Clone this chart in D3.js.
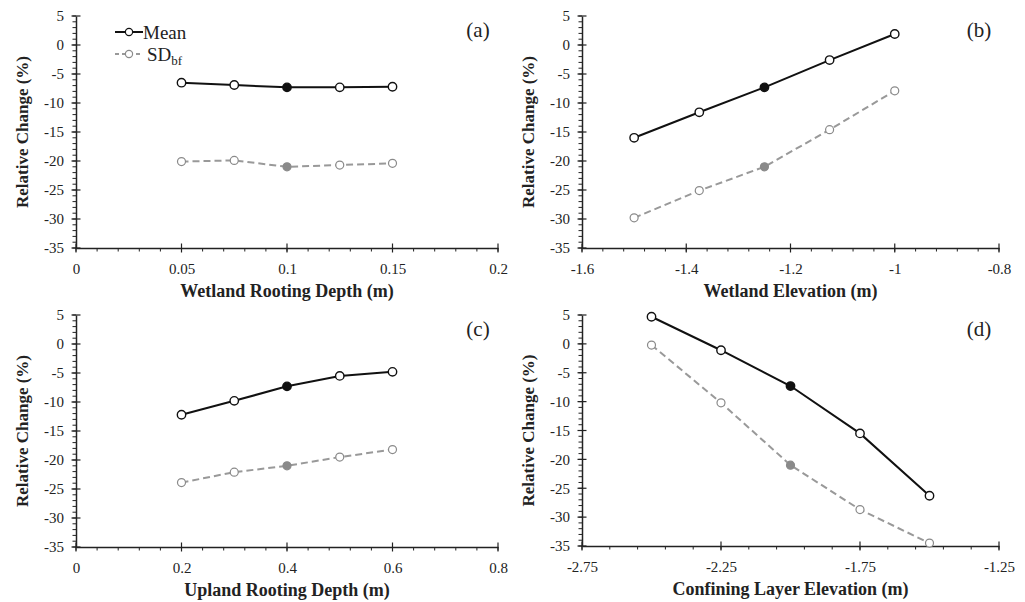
<!DOCTYPE html>
<html>
<head>
<meta charset="utf-8">
<script src="https://cdn.jsdelivr.net/npm/d3@7"></script>
<style>
  html, body { margin: 0; padding: 0; background: #fff; }
  svg { display: block; }
  text { font-family: "Liberation Serif", "Times New Roman", serif; fill: #222; }
</style>
</head>
<body>
<svg id="chart" width="1025" height="602"></svg>
<script>
// Sensitivity of relative change (%) to four model parameters
const wetlandRootDepth = [0.05, 0.075, 0.1, 0.125, 0.15];
const wetlandRootMean  = [-6.5, -6.9, -7.3, -7.3, -7.2];
const wetlandRootSD    = [-20.1, -19.9, -21.0, -20.7, -20.4];

const wetlandElev      = [-1.5, -1.375, -1.25, -1.125, -1.0];
const wetlandElevMean  = [-16.0, -11.6, -7.3, -2.6, 1.9];
const wetlandElevSD    = [-29.8, -25.1, -21.0, -14.6, -7.9];

const uplandRootDepth  = [0.2, 0.3, 0.4, 0.5, 0.6];
const uplandRootMean   = [-12.2, -9.8, -7.3, -5.5, -4.8];
const uplandRootSD     = [-23.9, -22.1, -21.0, -19.5, -18.2];

const confiningElev    = [-2.5, -2.25, -2.0, -1.75, -1.5];
const confiningMean    = [4.7, -1.1, -7.3, -15.5, -26.3];
const confiningSD      = [-0.2, -10.2, -21.0, -28.7, -34.5];

// Index of the base-case run (drawn with filled markers)
const baseIndex = 2;

const yMajorTicks = [5, 0, -5, -10, -15, -20, -25, -30, -35];

const panels = [
  { tag: "(a)", title: "Wetland Rooting Depth (m)", x: wetlandRootDepth, mean: wetlandRootMean, sd: wetlandRootSD,
    xDomain: [0, 0.2], xMajor: [0, 0.05, 0.1, 0.15, 0.2], xMinorStep: 0.01,
    left: 76, right: 498, top: 16, bottom: 248, legend: true },
  { tag: "(b)", title: "Wetland Elevation (m)", x: wetlandElev, mean: wetlandElevMean, sd: wetlandElevSD,
    xDomain: [-1.6, -0.8], xMajor: [-1.6, -1.4, -1.2, -1, -0.8], xMinorStep: 0.04,
    left: 582, right: 999, top: 16, bottom: 248 },
  { tag: "(c)", title: "Upland Rooting Depth (m)", x: uplandRootDepth, mean: uplandRootMean, sd: uplandRootSD,
    xDomain: [0, 0.8], xMajor: [0, 0.2, 0.4, 0.6, 0.8], xMinorStep: 0.04,
    left: 76, right: 498, top: 315, bottom: 547 },
  { tag: "(d)", title: "Confining Layer Elevation (m)", x: confiningElev, mean: confiningMean, sd: confiningSD,
    xDomain: [-2.75, -1.25], xMajor: [-2.75, -2.25, -1.75, -1.25], xMinorStep: 0.1,
    left: 582, right: 999, top: 315, bottom: 546 }
];

const meanColor = "#111";
const sdColor = "#999";
const sdMarkerColor = "#8a8a8a";
const serif = '"Liberation Serif", "Times New Roman", serif';

const svg = d3.select("#chart");
const fmt = d => String(+(+d).toFixed(3));

function rangeStep(a, b, step) {
  const n = Math.round((b - a) / step);
  return d3.range(n + 1).map(i => a + i * step);
}

panels.forEach(p => {
  const g = svg.append("g");
  const x = d3.scaleLinear().domain(p.xDomain).range([p.left, p.right]);
  const y = d3.scaleLinear().domain([-35, 5]).range([p.bottom, p.top]);

  // minor ticks (outside)
  const xMinor = rangeStep(p.xDomain[0], p.xDomain[1], p.xMinorStep);
  g.selectAll(".xminor").data(xMinor).join("line")
    .attr("x1", d => x(d)).attr("x2", d => x(d))
    .attr("y1", p.bottom).attr("y2", p.bottom + 3.5)
    .attr("stroke", "#222").attr("stroke-width", 1);
  const yMinor = d3.range(-35, 6, 1);
  g.selectAll(".yminor").data(yMinor).join("line")
    .attr("x1", p.left - 3.5).attr("x2", p.left)
    .attr("y1", d => y(d)).attr("y2", d => y(d))
    .attr("stroke", "#222").attr("stroke-width", 1);

  // major ticks (crossing)
  g.selectAll(".xmajor").data(p.xMajor).join("line")
    .attr("x1", d => x(d)).attr("x2", d => x(d))
    .attr("y1", p.bottom - 4.5).attr("y2", p.bottom + 4.5)
    .attr("stroke", "#222").attr("stroke-width", 1.2);
  g.selectAll(".ymajor").data(yMajorTicks).join("line")
    .attr("x1", p.left - 4.5).attr("x2", p.left + 4.5)
    .attr("y1", d => y(d)).attr("y2", d => y(d))
    .attr("stroke", "#222").attr("stroke-width", 1.2);

  // axis lines + labels through d3 axes
  const xAxis = g.append("g").attr("transform", `translate(0,${p.bottom})`)
    .call(d3.axisBottom(x).tickValues(p.xMajor).tickSize(0).tickPadding(15).tickFormat(fmt));
  const yAxis = g.append("g").attr("transform", `translate(${p.left},0)`)
    .call(d3.axisLeft(y).tickValues(yMajorTicks).tickSize(0).tickPadding(12).tickFormat(fmt));
  [xAxis, yAxis].forEach(a => {
    a.attr("font-family", null).attr("font-size", null);
    a.select(".domain").attr("stroke", "#222").attr("stroke-width", 1.5);
    a.selectAll("text")
      .style("font-family", serif).style("font-size", "15px").style("fill", "#222");
  });

  // axis titles
  g.append("text")
    .attr("x", (p.left + p.right) / 2).attr("y", p.bottom + 49)
    .attr("text-anchor", "middle").attr("font-weight", "bold").attr("font-size", 18)
    .text(p.title);
  g.append("text")
    .attr("transform", `translate(${p.left - 54},${(p.top + p.bottom) / 2}) rotate(-90)`)
    .attr("text-anchor", "middle").attr("dy", "0.35em")
    .attr("font-weight", "bold").attr("font-size", 17)
    .text("Relative Change (%)");

  // panel tag
  g.append("text")
    .attr("x", p.right - 20).attr("y", p.top + 14)
    .attr("text-anchor", "middle").attr("dy", "0.35em").attr("font-size", 21)
    .text(p.tag);

  const line = d3.line().x(d => x(d[0])).y(d => y(d[1]));
  const sdPts = p.x.map((v, i) => [v, p.sd[i]]);
  const meanPts = p.x.map((v, i) => [v, p.mean[i]]);

  g.append("path").datum(sdPts).attr("d", line)
    .attr("fill", "none").attr("stroke", sdColor).attr("stroke-width", 2)
    .attr("stroke-dasharray", "7,4");
  g.selectAll(".sdpt").data(sdPts).join("circle")
    .attr("cx", d => x(d[0])).attr("cy", d => y(d[1])).attr("r", 4)
    .attr("fill", (d, i) => i === baseIndex ? sdMarkerColor : "#fff")
    .attr("stroke", sdMarkerColor).attr("stroke-width", 1.2);

  g.append("path").datum(meanPts).attr("d", line)
    .attr("fill", "none").attr("stroke", meanColor).attr("stroke-width", 2);
  g.selectAll(".meanpt").data(meanPts).join("circle")
    .attr("cx", d => x(d[0])).attr("cy", d => y(d[1])).attr("r", 4.2)
    .attr("fill", (d, i) => i === baseIndex ? meanColor : "#fff")
    .attr("stroke", meanColor).attr("stroke-width", 1.4);

  if (p.legend) {
    const lg = g.append("g");
    const items = [
      { label: "Mean", color: meanColor, mcolor: meanColor, dash: null, y: 32 },
      { label: "SD", sub: "bf", color: sdColor, mcolor: sdMarkerColor, dash: "4,3", y: 54 }
    ];
    items.forEach(it => {
      lg.append("line").attr("x1", 115).attr("x2", 143).attr("y1", it.y).attr("y2", it.y)
        .attr("stroke", it.color).attr("stroke-width", 2)
        .attr("stroke-dasharray", it.dash);
      lg.append("circle").attr("cx", 129).attr("cy", it.y).attr("r", 3.6)
        .attr("fill", "#fff").attr("stroke", it.mcolor).attr("stroke-width", 1.2);
      const t = lg.append("text").attr("x", 143).attr("y", it.y).attr("dy", "0.35em")
        .attr("font-size", 19).text(it.label);
      if (it.sub) {
        t.attr("x", 147);
        t.append("tspan").attr("font-size", 13).attr("dy", "0.3em").text(it.sub);
      }
    });
  }
});
</script>
</body>
</html>
